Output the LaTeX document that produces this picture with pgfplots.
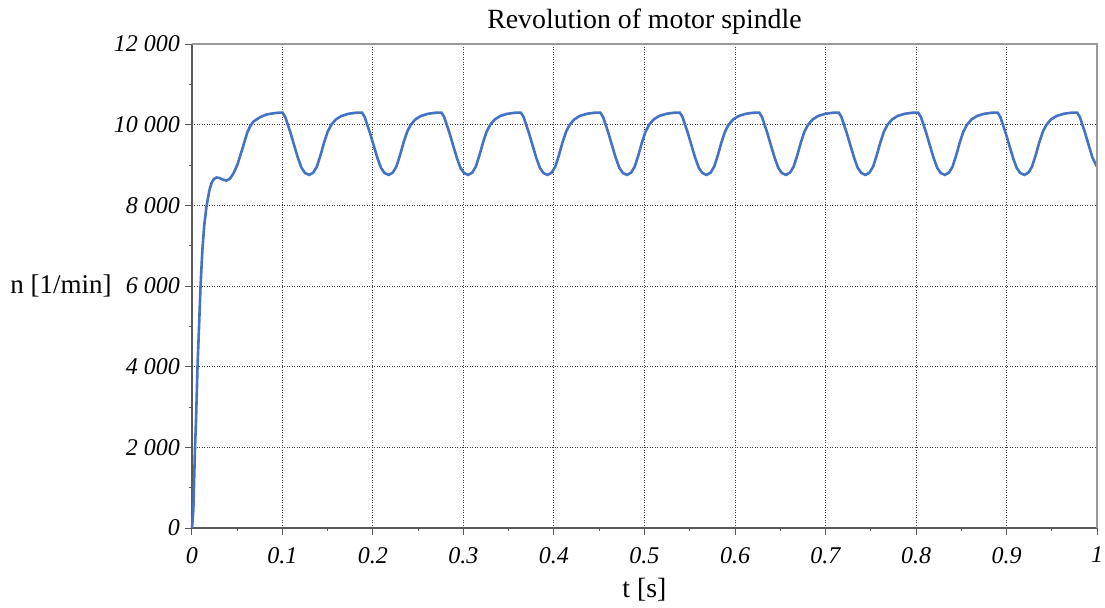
\documentclass[border=0pt]{standalone}
\usepackage{fontspec}
\setmainfont{Liberation Serif}
\usepackage{pgfplots}
\pgfplotsset{compat=1.18}
\usetikzlibrary{calc}
\definecolor{cline}{RGB}{68,114,196}

\begin{document}
\begin{tikzpicture}
\begin{axis}[name=a, at={(0,0)}, anchor=south west,
  scale only axis, width=452.5pt, height=242pt,
  xmin=0, xmax=1, ymin=0, ymax=12000, enlargelimits=false,
  axis lines*=left, axis line style={draw=black!65, line width=0.6pt},
  xtick={0,0.1,...,1}, ytick={0,2000,...,12000}, minor tick num=1,
  tick align=outside, tick style={black!65, line width=0.5pt},
  major tick length=3.5pt, minor tick length=1.5pt,
  grid=major, grid style={black!75, line width=0.5pt, dash pattern=on 0.5pt off 0.75pt},
  scaled ticks=false,
  ticklabel style={font=\fontsize{12}{14}\selectfont\itshape},
  /pgf/number format/assume math mode=true,
  xticklabel style={/pgf/number format/fixed, yshift=-2.5pt},
  yticklabel style={/pgf/number format/fixed, /pgf/number format/1000 sep={\ }, xshift=1pt},
  clip=false]
\addplot[cline, line width=1.3pt] table {
t v
0 0
0.0015 450
0.0033 1975
0.0045 2700
0.0061 4000
0.0078 5000
0.0094 5983
0.0115 6900
0.0135 7500
0.016 7967
0.019 8350
0.0215 8550
0.024 8650
0.027 8690
0.030 8680
0.034 8640
0.038 8614
0.042 8660
0.046 8800
0.050 9000
0.053 9207
0.057 9500
0.061 9800
0.064 9950
0.068 10080
0.0751 10183
0.082 10250
0.0898 10282
0.095 10295
0.1000 10300
0.1030 10190
0.1060 9990
0.1090 9786
0.1130 9480
0.1170 9180
0.1210 8930
0.1250 8800
0.1295 8755
0.1340 8810
0.1380 8960
0.1420 9240
0.1460 9560
0.1500 9830
0.1540 10000
0.1590 10130
0.1650 10215
0.1730 10270
0.1810 10295
0.1858 10300
0.1878 10300
0.1908 10190
0.1938 9990
0.1968 9786
0.2008 9480
0.2048 9180
0.2088 8930
0.2128 8800
0.2173 8755
0.2218 8810
0.2258 8960
0.2298 9240
0.2338 9560
0.2378 9830
0.2418 10000
0.2468 10130
0.2528 10215
0.2608 10270
0.2688 10295
0.2736 10300
0.2756 10300
0.2786 10190
0.2816 9990
0.2846 9786
0.2886 9480
0.2926 9180
0.2966 8930
0.3006 8800
0.3051 8755
0.3096 8810
0.3136 8960
0.3176 9240
0.3216 9560
0.3256 9830
0.3296 10000
0.3346 10130
0.3406 10215
0.3486 10270
0.3566 10295
0.3614 10300
0.3634 10300
0.3664 10190
0.3694 9990
0.3724 9786
0.3764 9480
0.3804 9180
0.3844 8930
0.3884 8800
0.3929 8755
0.3974 8810
0.4014 8960
0.4054 9240
0.4094 9560
0.4134 9830
0.4174 10000
0.4224 10130
0.4284 10215
0.4364 10270
0.4444 10295
0.4492 10300
0.4512 10300
0.4542 10190
0.4572 9990
0.4602 9786
0.4642 9480
0.4682 9180
0.4722 8930
0.4762 8800
0.4807 8755
0.4852 8810
0.4892 8960
0.4932 9240
0.4972 9560
0.5012 9830
0.5052 10000
0.5102 10130
0.5162 10215
0.5242 10270
0.5322 10295
0.5370 10300
0.5390 10300
0.5420 10190
0.5450 9990
0.5480 9786
0.5520 9480
0.5560 9180
0.5600 8930
0.5640 8800
0.5685 8755
0.5730 8810
0.5770 8960
0.5810 9240
0.5850 9560
0.5890 9830
0.5930 10000
0.5980 10130
0.6040 10215
0.6120 10270
0.6200 10295
0.6248 10300
0.6268 10300
0.6298 10190
0.6328 9990
0.6358 9786
0.6398 9480
0.6438 9180
0.6478 8930
0.6518 8800
0.6563 8755
0.6608 8810
0.6648 8960
0.6688 9240
0.6728 9560
0.6768 9830
0.6808 10000
0.6858 10130
0.6918 10215
0.6998 10270
0.7078 10295
0.7126 10300
0.7146 10300
0.7176 10190
0.7206 9990
0.7236 9786
0.7276 9480
0.7316 9180
0.7356 8930
0.7396 8800
0.7441 8755
0.7486 8810
0.7526 8960
0.7566 9240
0.7606 9560
0.7646 9830
0.7686 10000
0.7736 10130
0.7796 10215
0.7876 10270
0.7956 10295
0.8004 10300
0.8024 10300
0.8054 10190
0.8084 9990
0.8114 9786
0.8154 9480
0.8194 9180
0.8234 8930
0.8274 8800
0.8319 8755
0.8364 8810
0.8404 8960
0.8444 9240
0.8484 9560
0.8524 9830
0.8564 10000
0.8614 10130
0.8674 10215
0.8754 10270
0.8834 10295
0.8882 10300
0.8902 10300
0.8932 10190
0.8962 9990
0.8992 9786
0.9032 9480
0.9072 9180
0.9112 8930
0.9152 8800
0.9197 8755
0.9242 8810
0.9282 8960
0.9322 9240
0.9362 9560
0.9402 9830
0.9442 10000
0.9492 10130
0.9552 10215
0.9632 10270
0.9712 10295
0.9760 10300
0.9780 10300
0.9810 10190
0.9840 9990
0.9870 9786
0.9910 9480
0.9950 9180
1.0000 8960
};
\end{axis}
\draw[black!40, line width=0.6pt] (a.north west) -- (a.north east) -- (a.south east);
\node[font=\fontsize{13.9}{16}\selectfont] at ($(a.north)+(0,11pt)$) {Revolution of motor spindle};
\node[font=\fontsize{13.9}{16}\selectfont] at ($(a.south)+(0,-31pt)$) {t [s]};
\node[font=\fontsize{13.5}{15}\selectfont] at ($(a.west)+(-65.5pt,0)$) {n [1/min]};
\pgfresetboundingbox
\path ($(a.south west)+(-96pt,-39.5pt)$) rectangle ($(a.north east)+(4pt,22pt)$);
\end{tikzpicture}
\end{document}
